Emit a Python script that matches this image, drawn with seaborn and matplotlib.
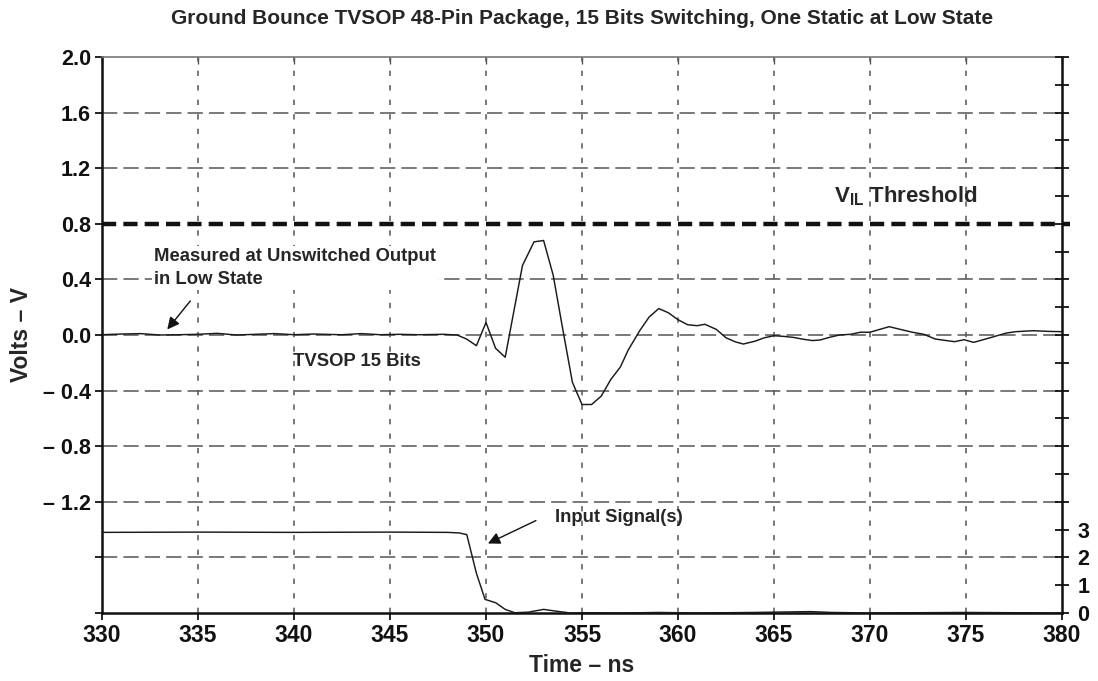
import numpy as np
import pandas as pd
import matplotlib
matplotlib.use("Agg")
import matplotlib.pyplot as plt
import seaborn as sns

# Ground bounce measured at the unswitched (static low) output, volts vs ns
bounce_t = [330.0, 331.0, 332.0, 333.0, 334.0, 335.0, 336.0, 337.0, 338.0, 339.0,
            340.0, 341.0, 342.5, 343.5, 344.5, 345.5, 346.5, 347.8, 348.5, 349.0,
            349.5, 350.0, 350.5, 351.0, 351.9, 352.5, 353.0, 353.5, 354.0, 354.5,
            355.0, 355.5, 356.0, 356.5, 357.0, 357.4, 358.0, 358.5, 359.0, 359.5,
            360.0, 360.5, 361.0, 361.4, 362.0, 362.5, 363.0, 363.4, 364.0, 364.5,
            365.0, 365.5, 366.0, 366.5, 367.0, 367.4, 367.8, 368.4, 369.0, 369.5,
            370.0, 370.5, 371.0, 371.5, 372.2, 372.8, 373.4, 374.4, 374.9, 375.4,
            376.2, 377.1, 377.6, 378.5, 379.3, 380.0]
bounce_v = [0.002, 0.007, 0.010, 0.000, 0.002, 0.005, 0.012, 0.000, 0.005, 0.010,
            0.002, 0.007, 0.002, 0.010, 0.002, 0.005, 0.002, 0.005, 0.000, -0.030,
            -0.077, 0.090, -0.096, -0.160, 0.500, 0.670, 0.680, 0.430, 0.040, -0.340,
            -0.500, -0.500, -0.440, -0.320, -0.230, -0.110, 0.030, 0.130, 0.190, 0.160,
            0.110, 0.074, 0.067, 0.077, 0.040, -0.020, -0.050, -0.065, -0.045, -0.020,
            -0.005, -0.010, -0.017, -0.030, -0.040, -0.036, -0.020, 0.000, 0.005, 0.020,
            0.020, 0.040, 0.060, 0.043, 0.020, 0.005, -0.029, -0.048, -0.034, -0.053,
            -0.022, 0.014, 0.024, 0.031, 0.026, 0.024]

# Input signal (right-hand scale, volts)
input_t = [330.0, 335.0, 340.0, 345.0, 348.0, 348.6, 349.0, 349.5, 349.95, 350.5,
           351.0, 351.5, 352.2, 353.0, 353.5, 354.4, 355.0, 357.0, 359.0, 361.0,
           364.0, 366.9, 368.0, 370.0, 375.0, 380.0]
input_v = [2.90, 2.91, 2.90, 2.91, 2.90, 2.88, 2.82, 1.43, 0.49, 0.37,
           0.13, 0.01, 0.03, 0.13, 0.08, 0.00, 0.01, 0.00, 0.02, 0.00,
           0.02, 0.05, 0.02, 0.00, 0.02, 0.00]

VIL = 0.8
x_ticks = list(range(330, 381, 5))
y_ticks = [-2.0, -1.6, -1.2, -0.8, -0.4, 0.0, 0.4, 0.8, 1.2, 1.6, 2.0]
y_tick_labels = ["", "", "– 1.2", "– 0.8", "– 0.4", "0.0", "0.4", "0.8", "1.2", "1.6", "2.0"]
right_ticks = list(range(0, 21))
right_tick_labels = ["0", "1", "2", "3"] + [""] * 17

sns.set_style("white")
plt.rcParams["font.family"] = ["Liberation Sans", "DejaVu Sans"]
plt.rcParams["font.weight"] = "bold"
plt.rcParams["mathtext.fontset"] = "custom"
plt.rcParams["mathtext.rm"] = "Liberation Sans:bold"
plt.rcParams["mathtext.bf"] = "Liberation Sans:bold"
plt.rcParams["mathtext.it"] = "Liberation Sans:bold"

TICK_FS = 15.5
XTICK_FS = 16.5
LABEL_FS = 16.5
NOTE_FS = 13.3
VIL_FS = 16
TITLE_FS = 15

fig = plt.figure(figsize=(10.98, 6.81), dpi=100)
ax = fig.add_axes([102 / 1098, 1 - 613 / 681, 960 / 1098, 556 / 681])

bounce = pd.DataFrame({"t": bounce_t, "v": bounce_v})
inp = pd.DataFrame({"t": input_t, "v": input_v})

grid_col = "#555555"
# Horizontal dashed grid
for yv in y_ticks[1:-1]:
    if yv == VIL:
        continue
    ax.axhline(yv, color=grid_col, lw=1.1, dashes=(10, 4), zorder=1)
# Vertical dashed grid
for xv in x_ticks[1:-1]:
    ax.axvline(xv, color=grid_col, lw=1.1, dashes=(3.5, 6), zorder=1)

# VIL threshold
ax.axhline(VIL, xmin=0, xmax=1.008, color="#111111", lw=3.2, dashes=(3.2, 1.6),
           clip_on=False, zorder=3)

sns.lineplot(data=bounce, x="t", y="v", ax=ax, color="#1a1a1a", lw=1.05,
             estimator=None, sort=False, zorder=4)

ax.set_xlim(330, 380)
ax.set_ylim(-2.0, 2.0)
ax.set_xticks(x_ticks)
ax.set_xticklabels([str(x) for x in x_ticks])
ax.set_yticks(y_ticks)
ax.set_yticklabels(y_tick_labels)
ax.tick_params(axis="both", which="major", direction="out", length=5, width=1.3,
               labelsize=TICK_FS, colors="#111111")
ax.tick_params(axis="x", labelsize=XTICK_FS, pad=3)
ax.tick_params(axis="y", pad=3)
ax.tick_params(bottom=True, left=True)

for side in ["left", "bottom", "right"]:
    ax.spines[side].set_color("#111111")
    ax.spines[side].set_linewidth(1.8)
ax.spines["top"].set_color("#777777")
ax.spines["top"].set_linewidth(1.2)

# Top inward ticks
top = ax.secondary_xaxis("top")
top.set_xticks(x_ticks)
top.tick_params(direction="in", length=5, width=1.0, labeltop=False, colors="#555555")
top.spines["top"].set_visible(False)

# Input signal on its own scale
ax2 = ax.twinx()
sns.lineplot(data=inp, x="t", y="v", ax=ax2, color="#1a1a1a", lw=1.05,
             estimator=None, sort=False)
ax2.set_ylim(0, 20)
ax2.set_yticks(right_ticks)
ax2.set_yticklabels(right_tick_labels)
ax2.set_ylabel("")
ax2.tick_params(axis="y", direction="inout", length=10, width=1.3, labelsize=TICK_FS,
                pad=6, colors="#111111")
for s in ax2.spines.values():
    s.set_visible(False)
ax2.set_xlim(330, 380)

ax.set_xlabel("Time – ns", fontsize=LABEL_FS, fontweight="bold")
ax.set_ylabel("Volts – V", fontsize=LABEL_FS, fontweight="bold")
ax.xaxis.set_label_coords(0.5, -0.074)
ax.yaxis.set_label_coords(-0.072, 0.5)

fig.text(582 / 1098, 1 - 18 / 681,
         "Ground Bounce TVSOP 48-Pin Package, 15 Bits Switching, One Static at Low State",
         ha="center", va="center", fontsize=TITLE_FS, fontweight="bold")

ax.text(368.1, 1.0, r"V$_{\mathrm{IL}}$ Threshold", fontsize=VIL_FS, fontweight="bold",
        ha="left", va="center", zorder=5)
ax.text(332.7, 0.48, "Measured at Unswitched Output\nin Low State", fontsize=NOTE_FS,
        fontweight="bold", ha="left", va="center", linespacing=1.45, zorder=5,
        bbox=dict(facecolor="white", edgecolor="none", pad=1.5))
ax.annotate("", xy=(333.4, 0.04), xytext=(334.6, 0.245),
            arrowprops=dict(arrowstyle="-|>", color="#111111", lw=1.0,
                            mutation_scale=18, shrinkA=0, shrinkB=0), zorder=5)
ax.text(339.95, -0.19, "TVSOP 15 Bits", fontsize=NOTE_FS, fontweight="bold",
        ha="left", va="center", zorder=5)
ax.text(353.6, -1.315, "Input Signal(s)", fontsize=NOTE_FS, fontweight="bold",
        ha="left", va="center", zorder=5)
ax.annotate("", xy=(350.1, -1.5), xytext=(352.6, -1.335),
            arrowprops=dict(arrowstyle="-|>", color="#111111", lw=1.0,
                            mutation_scale=18, shrinkA=0, shrinkB=0), zorder=5)

fig.savefig("out.png", dpi=100)
